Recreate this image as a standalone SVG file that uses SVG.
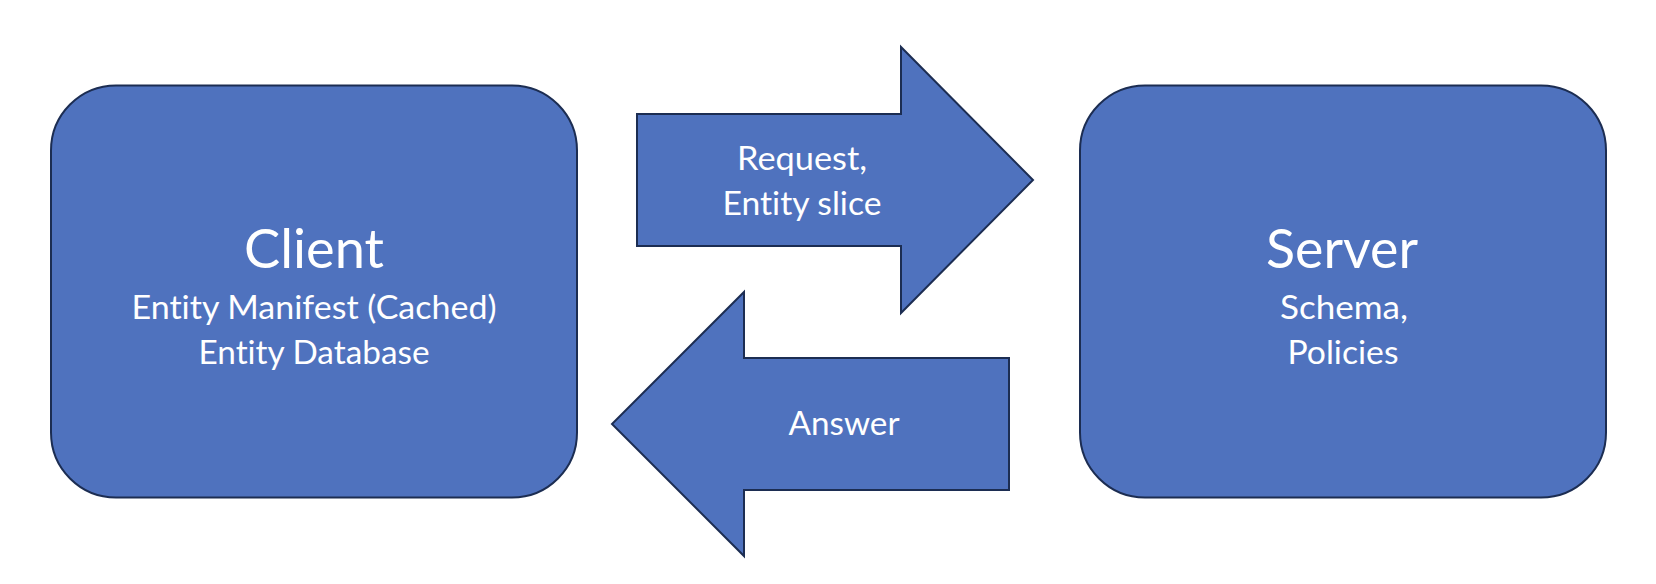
<svg xmlns="http://www.w3.org/2000/svg" width="1656" height="584" viewBox="0 0 1656 584">
  <style>
    .shape { fill: #4F72BE; stroke: #1C2D52; stroke-width: 2; }
    .t { fill: #FFFFFF; font-family: "Lato", "Open Sans", "Liberation Sans", sans-serif; text-anchor: middle; font-variant-ligatures: none; font-feature-settings: "liga" 0, "clig" 0; }
    .title { font-size: 54px; }
    .body { font-size: 33px; }
  </style>
  <rect width="1656" height="584" fill="#FFFFFF"/>
  <g id="client">
    <rect class="shape" x="51" y="85.5" width="526" height="412" rx="65" ry="65"/>
    <text class="t title" x="314" y="268" textLength="140" lengthAdjust="spacingAndGlyphs">Client</text>
    <text class="t body" x="314" y="319" textLength="365" lengthAdjust="spacingAndGlyphs">Entity Manifest (Cached)</text>
    <text class="t body" x="314" y="364" textLength="231" lengthAdjust="spacingAndGlyphs">Entity Database</text>
  </g>
  <g id="server">
    <rect class="shape" x="1080" y="85.5" width="526" height="412" rx="65" ry="65"/>
    <text class="t title" x="1342" y="268" textLength="152" lengthAdjust="spacingAndGlyphs">Server</text>
    <text class="t body" x="1344" y="319" textLength="128" lengthAdjust="spacingAndGlyphs">Schema,</text>
    <text class="t body" x="1343" y="364" textLength="111" lengthAdjust="spacingAndGlyphs">Policies</text>
  </g>
  <g id="connectors">
    <g id="request-arrow">
      <polygon class="shape" points="637,114 901,114 901,47 1033,180 901,313 901,246 637,246"/>
      <text class="t body" x="802" y="170" textLength="130" lengthAdjust="spacingAndGlyphs">Request,</text>
      <text class="t body" x="802" y="215" textLength="159" lengthAdjust="spacingAndGlyphs">Entity slice</text>
    </g>
    <g id="answer-arrow">
      <polygon class="shape" points="1009,358 744,358 744,292 612,424 744,556 744,490 1009,490"/>
      <text class="t body" x="844" y="435" textLength="111" lengthAdjust="spacingAndGlyphs">Answer</text>
    </g>
  </g>
</svg>
